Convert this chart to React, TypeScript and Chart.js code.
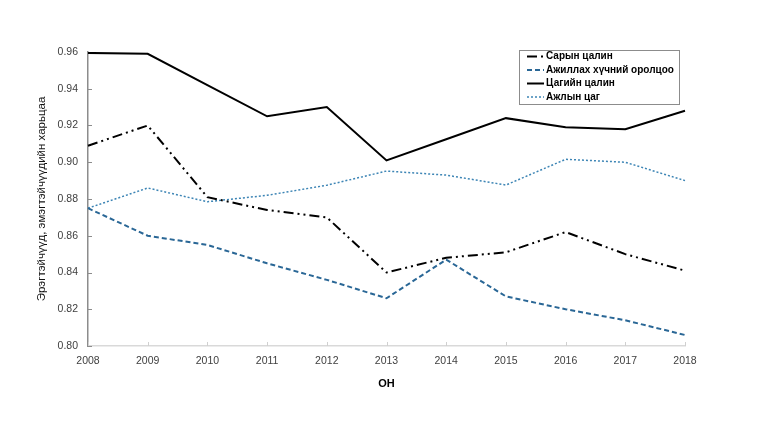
import { useEffect, useRef } from "react"
import { Chart, registerables } from "chart.js"

Chart.register(...registerables)

const years = ["2008", "2009", "2010", "2011", "2012", "2013", "2014", "2015", "2016", "2017", "2018"]

// Сарын цалин (dash-dot-dot)
const monthlyWage = [0.909, 0.92, 0.881, 0.874, 0.870, 0.840, 0.848, 0.851, 0.862, 0.850, 0.841]
// Ажиллах хүчний оролцоо (dashed blue)
const laborParticipation = [0.875, 0.860, 0.855, 0.845, 0.836, 0.826, 0.847, 0.827, 0.820, 0.814, 0.806]
// Цагийн цалин (solid black)
const hourlyWage = [0.9595, 0.959, 0.942, 0.925, 0.930, 0.901, 0.9125, 0.924, 0.919, 0.918, 0.928]
// Ажлын цаг (dotted blue)
const workingHours = [0.875, 0.886, 0.8785, 0.882, 0.8875, 0.8952, 0.893, 0.8876, 0.9016, 0.900, 0.890]

const FONT = "'Liberation Sans', Arial, sans-serif"

// legend drawn inside a bordered box at the top right
const boxLegend = {
  id: "boxLegend",
  afterDraw(chart: Chart) {
    const ctx = chart.ctx
    const left = 519
    const top = 50
    const width = 160
    const height = 54
    ctx.save()
    ctx.fillStyle = "#ffffff"
    ctx.fillRect(left, top, width, height)
    ctx.strokeStyle = "#8c8c8c"
    ctx.lineWidth = 1
    ctx.setLineDash([])
    ctx.strokeRect(left + 0.5, top + 0.5, width, height)
    ctx.font = `bold 10px ${FONT}`
    ctx.textBaseline = "middle"
    chart.data.datasets.forEach((ds: any, i: number) => {
      const y = top + 6.5 + i * 13.5
      ctx.strokeStyle = ds.borderColor
      ctx.lineWidth = ds.borderWidth
      ctx.setLineDash(ds.borderDash || [])
      ctx.beginPath()
      ctx.moveTo(527, y)
      ctx.lineTo(544, y)
      ctx.stroke()
      ctx.setLineDash([])
      ctx.fillStyle = "#000000"
      ctx.fillText(ds.label, 546, y)
    })
    ctx.restore()
  },
}

// small tick marks pointing into the plot area
const innerTicks = {
  id: "innerTicks",
  beforeDatasetsDraw(chart: Chart) {
    const ctx = chart.ctx
    const { x, y } = chart.scales as any
    const area = chart.chartArea
    ctx.save()
    ctx.lineWidth = 1
    ctx.strokeStyle = "#8c8c8c"
    y.ticks.forEach((_t: any, i: number) => {
      const py = Math.round(y.getPixelForTick(i)) + 0.5
      ctx.beginPath()
      ctx.moveTo(area.left, py)
      ctx.lineTo(area.left + 4, py)
      ctx.stroke()
    })
    ctx.strokeStyle = "#d0d0d0"
    x.ticks.forEach((_t: any, i: number) => {
      const px = Math.round(x.getPixelForTick(i)) + 0.5
      ctx.beginPath()
      ctx.moveTo(px, area.bottom)
      ctx.lineTo(px, area.bottom - 4)
      ctx.stroke()
    })
    ctx.restore()
  },
}

export default function App() {
  const chartRef = useRef<HTMLCanvasElement>(null)
  const chartInstance = useRef<Chart | null>(null)

  useEffect(() => {
    document.body.style.margin = "0"
    if (!chartRef.current) return
    if (chartInstance.current) chartInstance.current.destroy()
    const ctx = chartRef.current.getContext("2d")
    if (!ctx) return

    chartInstance.current = new Chart(ctx, {
      type: "line",
      data: {
        labels: years,
        datasets: [
          {
            label: "Сарын цалин",
            data: monthlyWage,
            borderColor: "#000000",
            borderWidth: 2,
            borderDash: [10, 4, 2, 4, 2, 4],
            pointRadius: 0,
            tension: 0,
          },
          {
            label: "Ажиллах хүчний оролцоо",
            data: laborParticipation,
            borderColor: "#2a6796",
            borderWidth: 2,
            borderDash: [5, 3],
            pointRadius: 0,
            tension: 0,
          },
          {
            label: "Цагийн цалин",
            data: hourlyWage,
            borderColor: "#000000",
            borderWidth: 2,
            pointRadius: 0,
            tension: 0,
          },
          {
            label: "Ажлын цаг",
            data: workingHours,
            borderColor: "#3d85b5",
            borderWidth: 1.5,
            borderDash: [2, 2],
            pointRadius: 0,
            tension: 0,
          },
        ],
      },
      options: {
        responsive: true,
        maintainAspectRatio: false,
        animation: false,
        layout: { padding: { left: 0, right: 89, top: 52, bottom: 0 } },
        scales: {
          x: {
            afterFit: (scale: any) => {
              scale.height = 84
            },
            grid: { display: false, drawTicks: false },
            border: { color: "#d9d9d9", width: 1.5 },
            ticks: {
              padding: 9,
              color: "#404040",
              font: { family: FONT, size: 10.5 },
              maxRotation: 0,
            },
            title: {
              display: true,
              text: "ОН",
              color: "#000000",
              font: { family: FONT, size: 11, weight: "bold" },
              padding: { top: 0, bottom: 39 },
            },
          },
          y: {
            min: 0.8,
            max: 0.96,
            afterFit: (scale: any) => {
              scale.width = 88
            },
            grid: { display: false, drawTicks: false },
            border: { color: "#8c8c8c", width: 1.5 },
            ticks: {
              stepSize: 0.02,
              padding: 10,
              color: "#404040",
              font: { family: FONT, size: 10.5 },
              callback: (v: any) => Number(v).toFixed(2),
            },
            title: {
              display: true,
              text: "Эрэгтэйчүүд, эмэгтэйчүүдийн харьцаа",
              color: "#111111",
              font: { family: FONT, size: 11.5 },
              padding: { top: 35, bottom: 0 },
            },
          },
        },
        plugins: {
          legend: { display: false },
          tooltip: { enabled: false },
        },
      },
      plugins: [innerTicks, boxLegend],
    })

    return () => {
      if (chartInstance.current) {
        chartInstance.current.destroy()
        chartInstance.current = null
      }
    }
  }, [])

  return (
    <div style={{ width: 774, height: 430, position: "relative", background: "#ffffff" }}>
      <canvas ref={chartRef} />
    </div>
  )
}
